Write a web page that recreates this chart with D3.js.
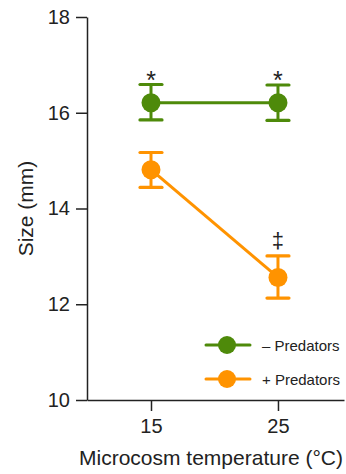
<!DOCTYPE html>
<html>
<head>
<meta charset="utf-8">
<script src="https://cdnjs.cloudflare.com/ajax/libs/d3/7.8.5/d3.min.js"></script>
<style>
  body { margin: 0; background: #fff; }
  text { font-family: "Liberation Sans", Arial, sans-serif; fill: #222; }
</style>
</head>
<body>
<svg id="chart" width="346" height="474"></svg>
<script>
'use strict';

// data
var temps = [15, 25];
var seriesNames = ['\u2013 Predators', '+ Predators'];
var noPredMean = [16.21, 16.21];
var noPredLow = [15.85, 15.84];
var noPredHigh = [16.59, 16.58];
var predMean = [14.81, 12.56];
var predLow = [14.44, 12.13];
var predHigh = [15.17, 13.01];
var noPredMarks = ['*', '*'];
var predMarks = ['', '\u2021'];
var yTicks = [10, 12, 14, 16, 18];

var colors = ['#4e8a0a', '#ff9300'];

var svg = d3.select('#chart');
var plotLeft = 87, plotRight = 344, plotTop = 17, plotBottom = 400;

var x = d3.scaleLinear().domain([9.96, 30.2]).range([plotLeft, plotRight]);
var y = d3.scaleLinear().domain([10, 18]).range([plotBottom, plotTop]);

// axes
var yAxis = svg.append('g')
	.attr('transform', 'translate(' + plotLeft + ',0)')
	.call(d3.axisLeft(y).tickValues(yTicks).tickSize(11).tickPadding(6).tickSizeOuter(0));
var xAxis = svg.append('g')
	.attr('transform', 'translate(0,' + plotBottom + ')')
	.call(d3.axisBottom(x).tickValues(temps).tickSize(11).tickPadding(8).tickSizeOuter(0));

[yAxis, xAxis].forEach(function (ax) {
	ax.select('.domain').attr('stroke', '#222').attr('stroke-width', 1.5);
	ax.selectAll('.tick line').attr('stroke', '#222').attr('stroke-width', 1.5);
	ax.selectAll('.tick text').style('font-size', '20px').attr('fill', '#222');
});

svg.append('text')
	.attr('transform', 'translate(33,' + ((plotTop + plotBottom) / 2) + ') rotate(-90)')
	.attr('text-anchor', 'middle')
	.style('font-size', '21px')
	.text('Size (mm)');

svg.append('text')
	.attr('x', 211)
	.attr('y', 465)
	.attr('text-anchor', 'middle')
	.style('font-size', '21px')
	.text('Microcosm temperature (\u00B0C)');

var series = [
	{ mean: noPredMean, low: noPredLow, high: noPredHigh, marks: noPredMarks },
	{ mean: predMean, low: predLow, high: predHigh, marks: predMarks }
];

var line = d3.line()
	.x(function (d) { return x(d.t); })
	.y(function (d) { return y(d.m); });

series.forEach(function (s, i) {
	var pts = temps.map(function (t, j) {
		return { t: t, m: s.mean[j], lo: s.low[j], hi: s.high[j], mark: s.marks[j] };
	});
	var g = svg.append('g');
	g.append('path')
		.datum(pts)
		.attr('d', line)
		.attr('fill', 'none')
		.attr('stroke', colors[i])
		.attr('stroke-width', 3);

	var bars = g.selectAll('.bar').data(pts).enter().append('g');
	bars.append('line')
		.attr('x1', function (d) { return x(d.t); })
		.attr('x2', function (d) { return x(d.t); })
		.attr('y1', function (d) { return y(d.lo); })
		.attr('y2', function (d) { return y(d.hi); })
		.attr('stroke', colors[i]).attr('stroke-width', 3);
	['lo', 'hi'].forEach(function (k) {
		bars.append('line')
			.attr('x1', function (d) { return x(d.t) - 11; })
			.attr('x2', function (d) { return x(d.t) + 11; })
			.attr('y1', function (d) { return y(d[k]); })
			.attr('y2', function (d) { return y(d[k]); })
			.attr('stroke', colors[i]).attr('stroke-width', 3.2)
			.attr('stroke-linecap', 'round');
	});
	bars.append('circle')
		.attr('cx', function (d) { return x(d.t); })
		.attr('cy', function (d) { return y(d.m); })
		.attr('r', 9.5)
		.attr('fill', colors[i]);
	bars.append('text')
		.attr('x', function (d) { return x(d.t); })
		.attr('y', function (d) { return d.mark === '*' ? y(d.hi) + 4 : y(d.hi) - 8; })
		.attr('text-anchor', 'middle')
		.style('font-size', function (d) { return d.mark === '*' ? '25px' : '22px'; })
		.text(function (d) { return d.mark; });

	// legend
	var ly = 345 + i * 34;
	svg.append('line')
		.attr('x1', 206).attr('x2', 250)
		.attr('y1', ly).attr('y2', ly)
		.attr('stroke', colors[i]).attr('stroke-width', 3)
		.attr('stroke-linecap', 'round');
	svg.append('circle')
		.attr('cx', 227).attr('cy', ly).attr('r', 9)
		.attr('fill', colors[i]);
	svg.append('text')
		.attr('x', 262).attr('y', ly + 5.5)
		.style('font-size', '15px')
		.text(seriesNames[i]);
});
</script>
</body>
</html>
